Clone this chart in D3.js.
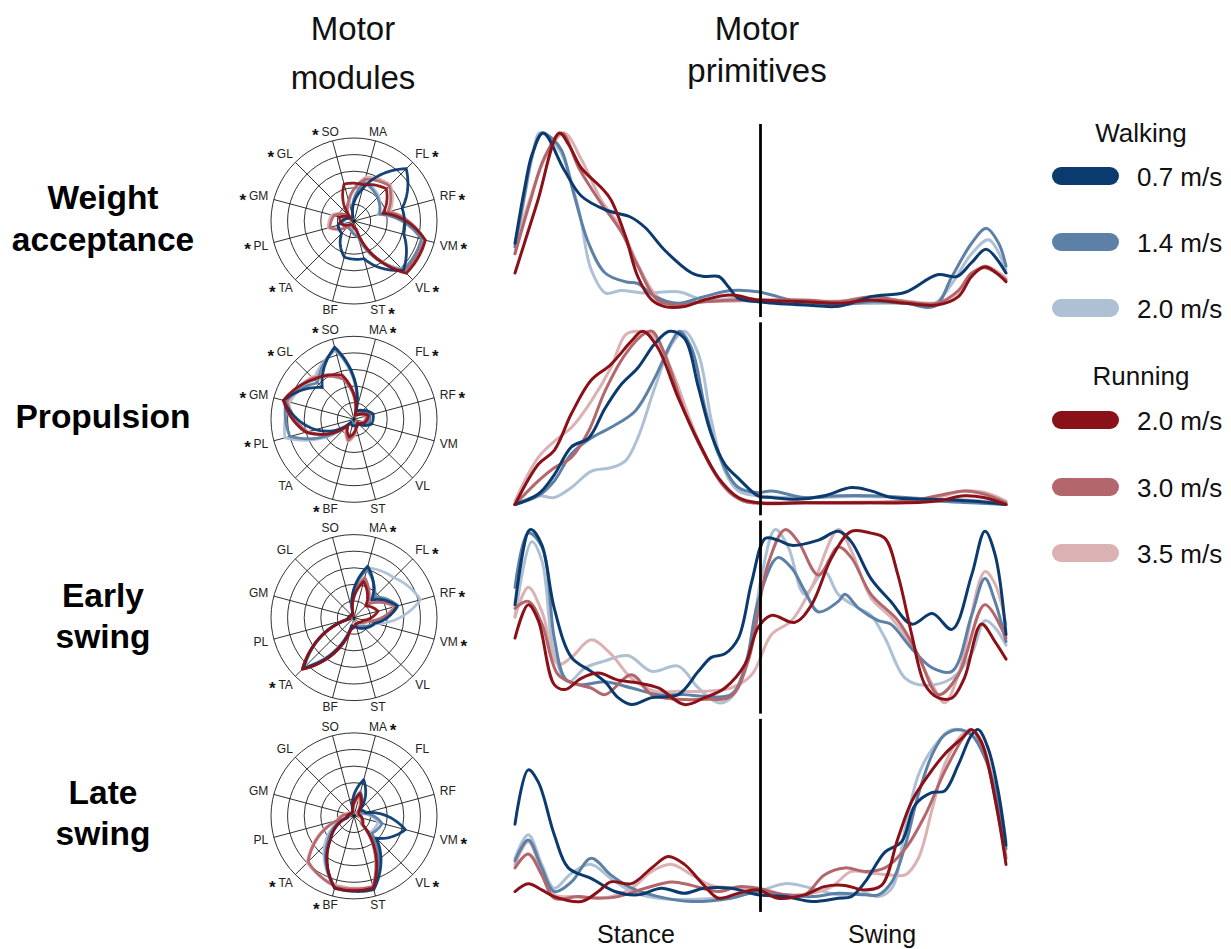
<!DOCTYPE html>
<html><head><meta charset="utf-8">
<script src="https://cdn.jsdelivr.net/npm/d3@7"></script>
<style>body{margin:0;background:#fff}svg{display:block;font-family:"Liberation Sans",Arial,sans-serif}</style>
</head><body><svg id="c" width="1231" height="949"></svg>
<script>
// ---------- DATA ----------
const muscles = ["SO","MA","FL","RF","VM","VL","ST","BF","TA","PL","GM","GL"];
const conditionNames = ["Walking 0.7 m/s","Walking 1.4 m/s","Walking 2.0 m/s","Running 2.0 m/s","Running 3.0 m/s","Running 3.5 m/s"];
const speedLabels = ["0.7 m/s","1.4 m/s","2.0 m/s","2.0 m/s","3.0 m/s","3.5 m/s"];
const colors = ["#0b3a6f","#5d81a6","#adc0d4","#8b1118","#b3666b","#dcb1b3"];
const synergyNames = [["Weight","acceptance"],["Propulsion"],["Early","swing"],["Late","swing"]];
const starred = [
  ["SO","FL","RF","VM","VL","ST","TA","PL","GM","GL"],
  ["SO","MA","FL","RF","BF","PL","GM","GL"],
  ["MA","FL","RF","VM","TA"],
  ["MA","VM","VL","BF","TA"]
];
const phaseLabels = ["Stance","Swing"];

// motor modules: rows = conditions, columns = muscles (SO..GL)
const modulesWA = [
  [0.05,0.40,0.89,0.60,0.62,0.84,0.47,0.45,0.21,0.20,0.10,0.04],
  [0.04,0.48,0.40,0.32,0.84,0.84,0.20,0.12,0.10,0.15,0.12,0.04],
  [0.04,0.50,0.42,0.30,0.86,0.82,0.18,0.10,0.08,0.13,0.10,0.04],
  [0.46,0.45,0.55,0.36,0.89,0.89,0.10,0.05,0.05,0.15,0.18,0.05],
  [0.25,0.52,0.60,0.42,0.88,0.86,0.12,0.06,0.08,0.30,0.25,0.08],
  [0.22,0.55,0.62,0.45,0.87,0.85,0.12,0.06,0.10,0.32,0.28,0.08]
];
const modulesPR = [
  [0.90,0.10,0.15,0.24,0.22,0.08,0.08,0.08,0.05,0.48,0.88,0.54],
  [0.88,0.08,0.12,0.20,0.18,0.06,0.06,0.06,0.05,0.80,0.85,0.62],
  [0.86,0.08,0.12,0.18,0.16,0.06,0.06,0.06,0.06,0.86,0.80,0.68],
  [0.55,0.05,0.08,0.18,0.14,0.06,0.10,0.22,0.10,0.60,0.88,0.68],
  [0.50,0.05,0.08,0.16,0.12,0.06,0.10,0.26,0.10,0.58,0.84,0.70],
  [0.52,0.05,0.08,0.15,0.12,0.06,0.12,0.28,0.12,0.60,0.82,0.72]
];
const modulesES = [
  [0.06,0.64,0.30,0.54,0.26,0.18,0.12,0.10,0.86,0.08,0.06,0.04],
  [0.06,0.60,0.35,0.55,0.25,0.15,0.10,0.10,0.86,0.08,0.05,0.04],
  [0.06,0.62,0.68,0.83,0.28,0.12,0.08,0.08,0.84,0.08,0.05,0.04],
  [0.05,0.45,0.20,0.30,0.12,0.08,0.08,0.15,0.88,0.05,0.05,0.03],
  [0.05,0.50,0.22,0.52,0.16,0.08,0.08,0.14,0.88,0.05,0.05,0.03],
  [0.05,0.48,0.25,0.50,0.18,0.08,0.08,0.14,0.87,0.05,0.05,0.03]
];
const modulesLS = [
  [0.06,0.45,0.10,0.15,0.64,0.38,0.92,0.90,0.40,0.08,0.06,0.04],
  [0.05,0.30,0.08,0.12,0.35,0.30,0.90,0.90,0.45,0.10,0.06,0.04],
  [0.05,0.28,0.08,0.10,0.30,0.28,0.90,0.88,0.50,0.12,0.06,0.04],
  [0.05,0.28,0.08,0.06,0.10,0.15,0.90,0.90,0.40,0.10,0.06,0.04],
  [0.05,0.25,0.06,0.06,0.10,0.12,0.88,0.88,0.78,0.20,0.08,0.04],
  [0.05,0.22,0.06,0.06,0.08,0.12,0.88,0.86,0.80,0.22,0.10,0.04]
];

// motor primitives: [normalised time (0-100 stance, 100-200 swing), amplitude]
const primitivesWA = [
  [[0,.37],[4,.69],[7,.88],[11.5,1],[20,.79],[27,.64],[37,.56],[47,.52],[53,.46],[61,.33],[72,.2],[77,.18],[83,.18],[87,.12],[91,.055],[99,.036],[118,.017],[132,.01],[145,.065],[159,.09],[172,.19],[180,.18],[186,.26],[192,.335],[200,.2]],
  [[0,.35],[4,.66],[7,.87],[11,1],[15,.97],[19,.9],[24,.65],[30,.37],[36.7,.2],[45,.15],[50,.14],[57,.065],[66.5,.027],[77,.065],[88,.1],[99,.093],[107,.065],[118,.027],[132,.017],[145,.036],[159,.027],[171,.01],[178,.18],[186,.37],[192,.455],[197,.37],[200,.24]],
  [[0,.31],[4,.64],[7,.86],[10,1],[14,.97],[19,.88],[26,.56],[31,.22],[37,.085],[43,.1],[53,.085],[66.5,.093],[77,.046],[91,.055],[99,.046],[118,.036],[132,.027],[159,.027],[171,.027],[178,.14],[186,.31],[193,.39],[200,.22]],
  [[0,.2],[9,.6],[18,1],[22,.93],[27,.8],[35,.69],[39,.62],[45,.41],[50,.18],[55.7,.046],[61,.008],[69,.008],[77,.046],[88,.074],[99,.046],[118,.036],[132,.027],[145,.046],[159,.027],[172,.017],[180.6,.065],[186,.18],[191.5,.236],[200,.15]],
  [[0,.31],[6,.6],[12,.86],[19,1],[26,.8],[34,.62],[43.5,.43],[50,.24],[58,.046],[66,.017],[77,.036],[91,.046],[99,.046],[118,.046],[132,.036],[145,.065],[159,.036],[172,.027],[180.6,.1],[186,.2],[191.5,.23],[200,.16]],
  [[0,.35],[6,.62],[13,.88],[20,1],[27,.85],[35,.62],[43.5,.45],[50,.25],[58,.065],[66,.02],[77,.036],[91,.04],[99,.046],[118,.04],[132,.04],[145,.055],[159,.04],[172,.03],[180.6,.09],[186,.19],[191.5,.24],[200,.17]]
];
const primitivesPR = [
  [[0,.01],[9.5,.07],[16,.18],[23,.34],[30,.39],[36.7,.56],[43.5,.7],[50,.79],[57,.93],[63,1],[69,.96],[74.7,.68],[80,.41],[85.5,.24],[91,.16],[99,.06],[104.5,.05],[115,.04],[126,.06],[137,.107],[145,.088],[153.5,.05],[170,.04],[186,.03],[200,.01]],
  [[0,.01],[9.5,.06],[16,.145],[23,.3],[31,.39],[39,.45],[49,.545],[57,.735],[64,.945],[67,1],[72,.9],[77.4,.56],[82.8,.3],[91,.107],[99,.078],[104.5,.088],[118,.05],[132,.06],[145,.06],[159,.05],[172,.03],[186,.02],[200,.01]],
  [[0,.01],[9.5,.06],[16,.05],[23,.107],[31,.2],[39,.22],[45,.26],[50,.39],[57,.68],[64,.93],[69,1],[74.7,.87],[80,.49],[85.5,.2],[91,.088],[99,.06],[118,.05],[132,.055],[145,.055],[159,.05],[172,.04],[186,.035],[200,.015]],
  [[0,.01],[9.5,.24],[16,.32],[23,.53],[31,.72],[39,.81],[47.5,.945],[52,1],[58,.91],[66.5,.62],[74.7,.37],[82.8,.164],[91,.05],[99,.02],[118,.02],[145,.02],[160,.02],[172,.03],[183,.06],[191,.05],[200,.01]],
  [[0,.01],[9.5,.145],[16,.22],[23,.28],[30,.43],[36.7,.66],[45,.87],[53,.99],[56,1],[61,.87],[69,.545],[77,.3],[85.5,.107],[93,.03],[99,.02],[118,.02],[145,.02],[160,.03],[172,.06],[183,.088],[191,.07],[200,.02]],
  [[0,.03],[9.5,.28],[17.6,.39],[23,.45],[31,.6],[39,.79],[45,.98],[50,1],[56,.98],[64,.77],[72,.47],[80,.22],[88,.07],[96,.02],[118,.02],[145,.025],[160,.03],[172,.05],[183,.088],[191,.08],[200,.03]]
];
const primitivesES = [
  [[0,.57],[5.4,.99],[6.8,1],[11,.91],[16,.55],[23,.27],[31,.19],[36.7,.13],[42,.04],[47.5,0],[55.7,.04],[66.5,.057],[74.7,.19],[80,.27],[85.5,.29],[91,.38],[96.4,.7],[102,.95],[107,.94],[112.7,.91],[123.6,.94],[131.7,.99],[137,.93],[145,.72],[153,.59],[161.6,.46],[170,.52],[178,.43],[186,.74],[191.4,.99],[195.5,.86],[200,.4]],
  [[0,.67],[5.4,.98],[11,.9],[16,.38],[20.4,.15],[25.8,.114],[36.7,.13],[47.5,.095],[58.4,.057],[69,.057],[77,.048],[88,.057],[93.7,.21],[99,.59],[107,.84],[112.7,.78],[118,.65],[123.6,.53],[131.7,.59],[134.4,.63],[140,.55],[148,.48],[153,.46],[161.6,.32],[170,.21],[178,.19],[186,.51],[191.4,.72],[195.5,.59],[200,.36]],
  [[0,.5],[6.8,.93],[11,.82],[16,.29],[21.7,.13],[28.5,.21],[36.7,.25],[46,.28],[55.7,.19],[66.5,.22],[74.7,.095],[82.8,.01],[88,.04],[95,.29],[100.5,.74],[106,1],[111.3,.9],[118,.63],[126,.76],[131.7,.63],[140,.55],[145,.51],[150.7,.38],[159,.15],[167,.11],[178,.15],[186,.29],[191.4,.48],[195.5,.44],[200,.34]],
  [[0,.38],[5.4,.57],[9.5,.48],[16,.114],[20.4,.086],[27,.15],[34,.18],[42,.14],[50,.124],[58.4,.095],[69,0],[77,.038],[85.5,.095],[93.7,.23],[99,.44],[104.5,.51],[114,.47],[120.8,.57],[129,.84],[137,.99],[145,.98],[150.7,.95],[156,.74],[161.6,.4],[167,.114],[172.5,.038],[178,.038],[183,.15],[190,.46],[195.5,.36],[200,.26]],
  [[0,.55],[5.4,.59],[11,.46],[17.6,.17],[25.8,.114],[31,.095],[36.7,.057],[47.5,.17],[55.7,.057],[66.5,.03],[77,.03],[88,.048],[95,.25],[103,.8],[110,1],[115.4,.93],[123.6,.74],[131.7,.9],[137,.84],[145,.63],[156,.48],[164,.29],[172.5,.057],[180.6,.17],[191.4,.57],[200,.38]],
  [[0,.5],[5.4,.67],[11,.53],[17.6,.23],[23,.27],[31,.37],[39,.29],[47.5,.15],[57,.076],[66.5,.076],[77,.076],[88,.095],[96.4,.17],[104.5,.4],[112.7,.48],[120.8,.67],[131.7,1],[137,.88],[145,.61],[153,.5],[161.6,.34],[170,.114],[175,.01],[180.6,.17],[191.4,.76],[195.5,.69],[200,.46]]
];
const primitivesLS = [
  [[0,.45],[5.4,.76],[9.5,.69],[16,.39],[21.7,.2],[31,.14],[40.7,.065],[50,.046],[59.7,.084],[69,.055],[77,.084],[88,.084],[93.7,.065],[99,.046],[110,.036],[121,.008],[131.7,.027],[137,.036],[142.6,.12],[150.7,.29],[157.5,.35],[163,.56],[169.7,.63],[175,.64],[180.6,.79],[186,.96],[188.7,.99],[192.8,.88],[196.8,.64],[200,.33]],
  [[0,.24],[5.4,.36],[10.9,.2],[16,.065],[23,.12],[31,.255],[39,.16],[47.5,.084],[58.4,.036],[72,.008],[88,.027],[99,.065],[110,.046],[121,.036],[131.7,.055],[142.6,.046],[148,.046],[153.5,.12],[159,.33],[164.3,.62],[170,.85],[175,.96],[180.6,.99],[186,.96],[191.4,.83],[196.8,.58],[200,.31]],
  [[0,.255],[5.4,.39],[10.9,.22],[16,.084],[23,.17],[31,.22],[39,.14],[47.5,.065],[58.4,.027],[72,.02],[88,.035],[99,.065],[110,.11],[121,.084],[131.7,.046],[142.6,.055],[148,.036],[153.5,.084],[159,.43],[164.3,.73],[170,.88],[178,.99],[186,.96],[191.4,.85],[196.8,.62],[200,.35]],
  [[0,.065],[5.4,.11],[10.9,.074],[16,.036],[27,.008],[33.9,.065],[39,.12],[47.5,.11],[55.7,.2],[62.4,.265],[69,.22],[77,.1],[82.8,.027],[91,.055],[99,.074],[107,.027],[118,.046],[126,.093],[134.4,.1],[142,.074],[149.3,.1],[156,.37],[161.6,.58],[168.4,.73],[175,.85],[182,.94],[186,.99],[190,.92],[195.5,.6],[200,.22]],
  [[0,.2],[5.4,.28],[10.9,.16],[16,.027],[25.8,.036],[33.9,.027],[42,.036],[53,.084],[63.8,.12],[72,.1],[82.8,.065],[91,.093],[99,.084],[110,.046],[118,.046],[126,.16],[134.4,.2],[142.6,.18],[150.7,.2],[159,.31],[167,.5],[175,.75],[183.4,.96],[186,.99],[191.4,.85],[196.8,.5],[200,.255]],
  [[0,.22],[5.4,.35],[10.9,.18],[16,.046],[23,.036],[31,.03],[39,.036],[47.5,.084],[55.7,.18],[63.8,.22],[72,.16],[80,.1],[91,.084],[99,.074],[110,.046],[121,.055],[129,.093],[137,.18],[145,.17],[153,.16],[159,.16],[164.3,.255],[170,.54],[175,.79],[182,.96],[186,.99],[191.4,.87],[196.8,.54],[200,.27]]
];

const allModules = [modulesWA, modulesPR, modulesES, modulesLS];
const allPrimitives = [primitivesWA, primitivesPR, primitivesES, primitivesLS];

// ---------- LAYOUT ----------
const svg = d3.select("#c");
svg.append("rect").attr("width",1231).attr("height",949).attr("fill","#fff");
const drawOrder = [2,5,1,4,0,3];
const rowStep = 198.3;
const radarCx = 354, radarCy0 = 221, radarR = 83;
const primTop0 = 133, primH = 175;

const rScale = d3.scaleLinear().domain([0,1]).range([0,radarR]);
const angle = i => (-15 + 30*i) * Math.PI/180;
const xPrim = d3.scaleLinear().domain([0,200]).range([515,1006]);

// titles
const title = (x,lines,ys)=>lines.forEach((l,i)=>svg.append("text").attr("x",x).attr("y",ys[i])
  .attr("text-anchor","middle").attr("font-size",33).attr("fill","#111").text(l));
title(353,["Motor","modules"],[40,89]);
title(757,["Motor","primitives"],[40,82]);

// row labels
const rowBase = [[209,251],[428],[607,648],[804,845]];
synergyNames.forEach((lines,k)=>lines.forEach((l,i)=>svg.append("text").attr("x",103).attr("y",rowBase[k][i])
  .attr("text-anchor","middle").attr("font-size",33.5).attr("font-weight","bold").attr("fill","#000").text(l)));

// polar path: radius varies linearly with angle between adjacent muscle axes
const polarLine = d3.lineRadial().angle(d=>d[0]).radius(d=>rScale(d[1])).curve(d3.curveLinearClosed);
function polarPath(vals){
  const n = vals.length, steps = 15, pts = [];
  for (let i=0;i<n;i++){
    const v0 = vals[i], v1 = vals[(i+1)%n], a0 = angle(i);
    for (let s=0;s<steps;s++){ const f = s/steps; pts.push([a0 + f*(2*Math.PI/n), v0 + (v1-v0)*f]); }
  }
  return polarLine(pts);
}

// radars
allModules.forEach((mod,k)=>{
  const g = svg.append("g").attr("transform",`translate(${radarCx},${radarCy0 + k*rowStep})`);
  [0.2,0.4,0.6,0.8,1].forEach(v=>g.append("circle").attr("r",rScale(v)).attr("fill","none").attr("stroke","#1a1a1a").attr("stroke-width",0.9));
  muscles.forEach((m,i)=>{
    const a = angle(i);
    g.append("line").attr("x1",0).attr("y1",0).attr("x2",Math.sin(a)*radarR).attr("y2",-Math.cos(a)*radarR)
      .attr("stroke","#1a1a1a").attr("stroke-width",0.9);
  });
  drawOrder.forEach(c=>{
    g.append("path").attr("d",polarPath(mod[c])).attr("fill","none").attr("stroke",colors[c])
      .attr("stroke-width",2.8).attr("stroke-linejoin","round").attr("opacity",0.95);
  });
  muscles.forEach((m,i)=>{
    const a = angle(i), s = Math.sin(a), c = Math.cos(a);
    const side = Math.abs(s) > 0.5;
    const rr = side ? 95 : 92.5;
    const px = s*rr, py = -c*rr;
    let anchor = "middle", x = px;
    if (side) { anchor = s>0 ? "start" : "end"; x = px + (s>0 ? -6 : 6); }
    const t = g.append("text").attr("x",x).attr("y",py).attr("text-anchor",anchor)
      .attr("dominant-baseline","central").attr("font-size",12).attr("fill","#222").text(m);
    if (starred[k].includes(m)) {
      const w = t.node().getComputedTextLength();
      let sx;
      if (s > 0) sx = (anchor==="start" ? x + w : x + w/2) + 6;
      else sx = (anchor==="end" ? x - w : x - w/2) - 6;
      g.append("text").attr("x",sx).attr("y",py+4).attr("text-anchor","middle")
        .attr("dominant-baseline","central").attr("font-size",17).attr("font-weight","bold").attr("fill","#111").text("*");
    }
  });
});

// primitives
allPrimitives.forEach((prim,k)=>{
  const top = primTop0 + k*rowStep;
  const y = d3.scaleLinear().domain([0,1]).range([top+primH, top]);
  const line = d3.line().x(d=>xPrim(d[0])).y(d=>y(d[1])).curve(d3.curveCatmullRom.alpha(0.5));
  drawOrder.forEach(c=>{
    svg.append("path").attr("d",line(prim[c])).attr("fill","none").attr("stroke",colors[c])
      .attr("stroke-width",3).attr("stroke-linejoin","round").attr("stroke-linecap","round");
  });
  svg.append("line").attr("x1",xPrim(100)).attr("x2",xPrim(100)).attr("y1",top-9).attr("y2",top+184)
    .attr("stroke","#000").attr("stroke-width",2.8);
});
svg.append("text").attr("x",636).attr("y",943).attr("text-anchor","middle").attr("font-size",25).attr("fill","#111").text(phaseLabels[0]);
svg.append("text").attr("x",882).attr("y",943).attr("text-anchor","middle").attr("font-size",25).attr("fill","#111").text(phaseLabels[1]);

// legend
const legY = [176,242,308,420,487,553];
svg.append("text").attr("x",1141).attr("y",142).attr("text-anchor","middle").attr("font-size",26).attr("fill","#111").text("Walking");
svg.append("text").attr("x",1141).attr("y",385).attr("text-anchor","middle").attr("font-size",26).attr("fill","#111").text("Running");
conditionNames.forEach((n,i)=>{
  svg.append("line").attr("x1",1061).attr("x2",1110).attr("y1",legY[i]).attr("y2",legY[i])
    .attr("stroke",colors[i]).attr("stroke-width",18).attr("stroke-linecap","round");
  svg.append("text").attr("x",1137).attr("y",legY[i]+1).attr("dominant-baseline","central")
    .attr("font-size",26).attr("fill","#111").text(speedLabels[i]);
});
</script></body></html>
